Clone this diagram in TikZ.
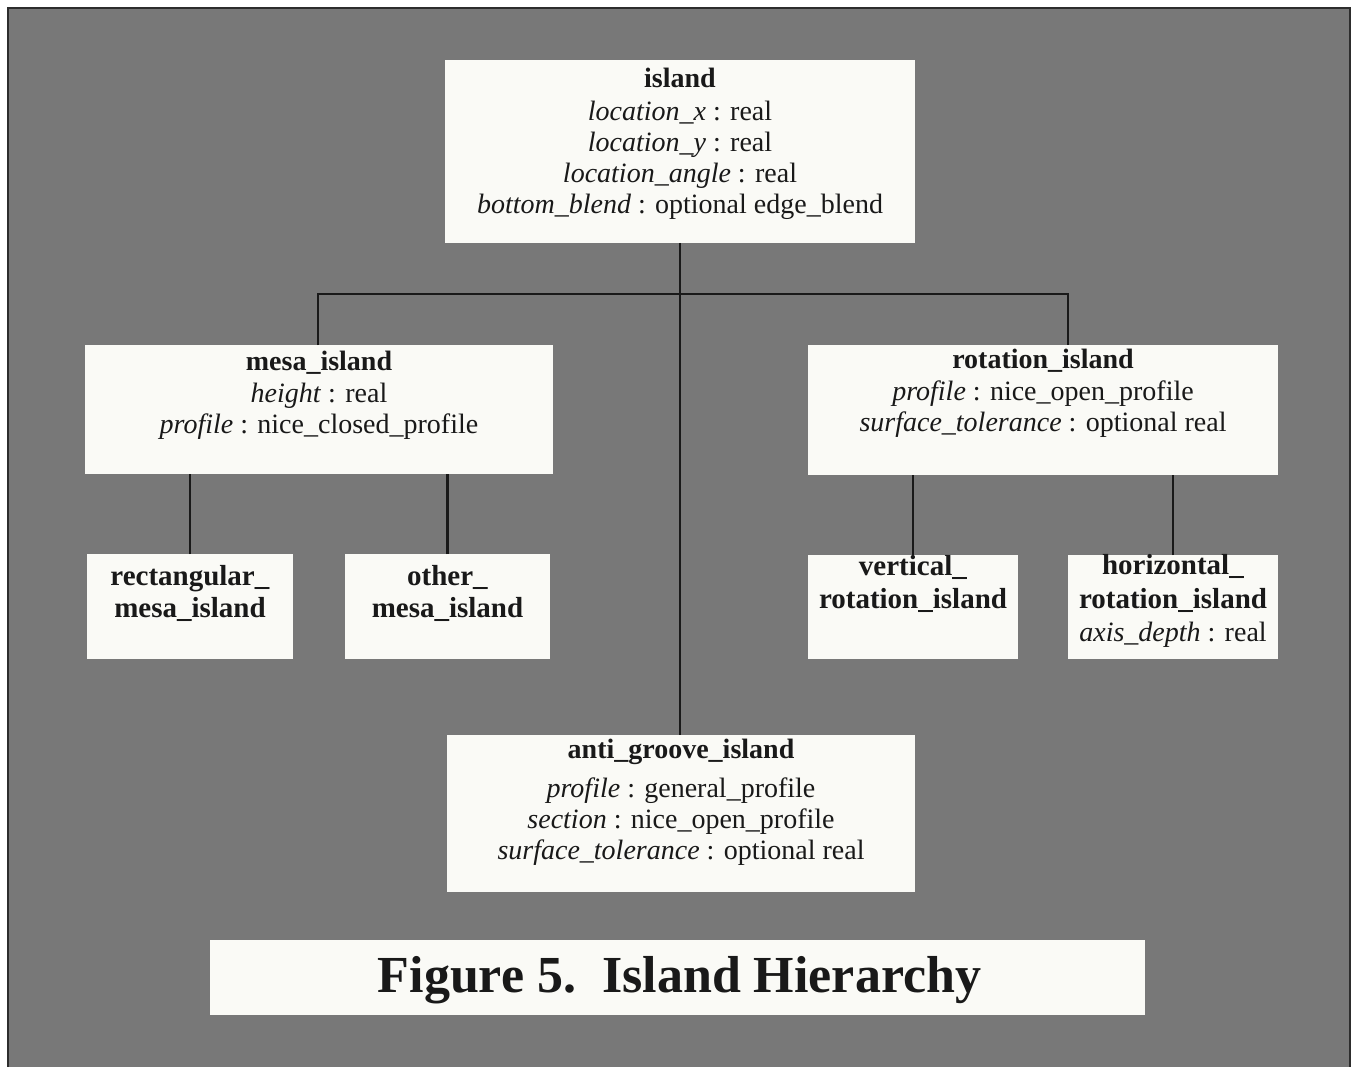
\documentclass[tikz,border=0pt]{standalone}
\usepackage{fontspec}
\setmainfont{Liberation Serif}
\usetikzlibrary{calc}
\definecolor{bggray}{RGB}{120,120,120}
\definecolor{boxwhite}{RGB}{250,250,246}
\definecolor{framegray}{RGB}{45,45,45}
\definecolor{inkline}{RGB}{25,25,25}
\newcommand{\boxlines}[1]{\begin{tabular}[t]{@{}c@{}}#1\end{tabular}}
\tikzset{
  classbox/.style={fill=boxwhite, draw=none, inner sep=0pt, outer sep=0pt},
  classtxt/.style={anchor=base, inner sep=0pt, text=black!90, font=\fontsize{28}{31}\selectfont},
  headtxt/.style={anchor=base, inner sep=0pt, text=black!90, font=\fontsize{29}{31}\selectfont},
  captxt/.style={anchor=base, inner sep=0pt, text=black!90, font=\fontsize{52}{60}\selectfont\bfseries},
  link/.style={draw=inkline, line width=2.5pt}
}
\begin{document}
\begin{tikzpicture}[x=1pt,y=-1pt]
\useasboundingbox (0,0) rectangle (1356,1067);
\fill[white] (0,0) rectangle (1356,1067);
\filldraw[fill=bggray, draw=framegray, line width=2pt] (8,8) rectangle (1350,1075);

% boxes
\node[classbox, minimum width=470pt, minimum height=183pt] (island) at (680,151.5) {};
\node[classbox, minimum width=468pt, minimum height=129pt] (mesa) at (319,409.5) {};
\node[classbox, minimum width=470pt, minimum height=130pt] (rot) at (1043,410) {};
\node[classbox, minimum width=206pt, minimum height=105pt] (rect) at (190,606.5) {};
\node[classbox, minimum width=205pt, minimum height=105pt] (other) at (447.5,606.5) {};
\node[classbox, minimum width=210pt, minimum height=104pt] (vert) at (913,607) {};
\node[classbox, minimum width=210pt, minimum height=104pt] (horiz) at (1173,607) {};
\node[classbox, minimum width=468pt, minimum height=157pt] (anti) at (681,813.5) {};
\node[classbox, minimum width=935pt, minimum height=75pt] (capbox) at (677.5,977.5) {};

% connectors
\coordinate (jl) at (318,294);
\coordinate (jr) at (1068,294);
\draw[link] (island.south) -- (island.south |- anti.north);
\draw[link] (jl |- mesa.north) |- (jr) -- (jr |- rot.north);
\draw[link] (rect.north) -- (rect.north |- mesa.south);
\draw[link] (other.north) -- (other.north |- mesa.south);
\draw[link] (vert.north) -- (vert.north |- rot.south);
\draw[link] (horiz.north) -- (horiz.north |- rot.south);

% texts
\node[classtxt] (island-t) at (680,88) {\boxlines{\textbf{island}\\[2pt]
  \textit{location\_x} : real\\
  \textit{location\_y} : real\\
  \textit{location\_angle} : real\\
  \textit{bottom\_blend} : optional edge\_blend}};
\node[classtxt] (mesa-t) at (319,370) {\boxlines{\textbf{mesa\_island}\\[1pt]
  \textit{height} : real\\
  \textit{profile} : nice\_closed\_profile}};
\node[classtxt] (rot-t) at (1043,368) {\boxlines{\textbf{rotation\_island}\\[1pt]
  \textit{profile} : nice\_open\_profile\\
  \textit{surface\_tolerance} : optional real}};
\node[headtxt] (rect-t) at (190,585) {\boxlines{\textbf{rectangular\_}\\[1pt]
  \textbf{mesa\_island}}};
\node[headtxt] (other-t) at (447.5,585) {\boxlines{\textbf{other\_}\\[1pt]
  \textbf{mesa\_island}}};
\node[headtxt] (vert-t) at (913,575) {\boxlines{\textbf{vertical\_}\\[2pt]
  \textbf{rotation\_island}}};
\node[headtxt] (horiz-t) at (1173,574) {\boxlines{\textbf{horizontal\_}\\[3pt]
  \textbf{rotation\_island}\\[2pt]
  {\fontsize{28}{31}\selectfont\textit{axis\_depth} : real}}};
\node[classtxt] (anti-t) at (681,758) {\boxlines{\textbf{anti\_groove\_island}\\[8pt]
  \textit{profile} : general\_profile\\
  \textit{section} : nice\_open\_profile\\
  \textit{surface\_tolerance} : optional real}};
\node[captxt] (cap-t) at (679.5,992) {Figure 5.\ \ Island Hierarchy};
\end{tikzpicture}
\end{document}
